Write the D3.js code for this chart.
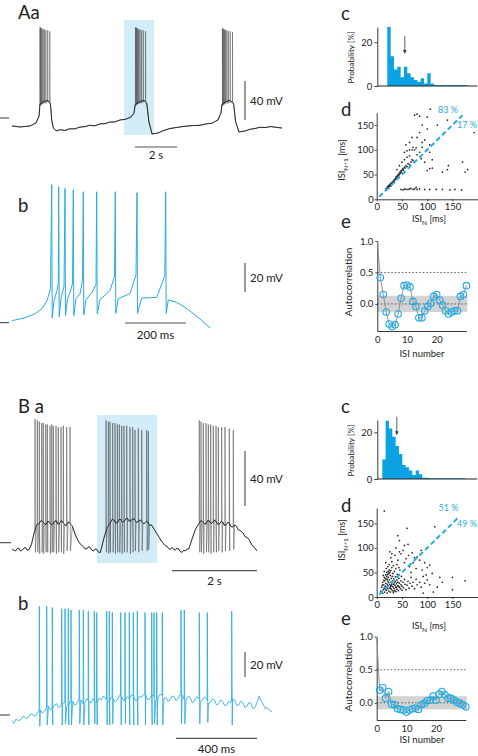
<!DOCTYPE html>
<html><head><meta charset="utf-8">
<script src="https://cdn.jsdelivr.net/npm/d3@7"></script>
<style>body{margin:0;background:#fff}svg{display:block}text{font-family:Lato,"Noto Sans",sans-serif;fill:#222}</style>
</head><body><svg id="c" width="478" height="756"></svg>
<script>
// ---------------- DATA ----------------
// Aa: slow membrane potential [s, mV] and spikes [s, peak mV, trough mV]
const aaBase = [[0,-68.2],[0.38,-69.2],[0.86,-68.2],[1.14,-65.1],[1.29,-58],[1.33,-46],[1.5,-43],[1.7,-42],[1.83,-45],[1.89,-62],[1.97,-70.3],[2.1,-73.3],[2.3,-72],[2.52,-72.8],[2.75,-71],[3.0,-71.2],[3.2,-69.5],[3.48,-68.8],[3.7,-67.5],[3.95,-68],[4.2,-66],[4.43,-65.8],[4.65,-64.2],[4.9,-64],[5.15,-62],[5.38,-61.5],[5.67,-59],[5.81,-54.9],[5.87,-46],[6.1,-43],[6.3,-42],[6.42,-45],[6.52,-64],[6.67,-76.4],[6.95,-75.4],[7.2,-73],[7.52,-70.8],[7.9,-69.5],[8.24,-68.5],[8.6,-67.8],[8.95,-67.5],[9.25,-66],[9.52,-65.4],[9.81,-62],[9.95,-54.9],[10.0,-46],[10.2,-43],[10.38,-42],[10.55,-45],[10.65,-64],[10.81,-74.4],[11.1,-73.3],[11.35,-71.5],[11.57,-70.8],[11.8,-69.5],[12.05,-69.8],[12.3,-68.8],[12.52,-69.4],[12.86,-70.3]];
const aaSpikes = [[1.33,33,-47],[1.36,33,-47],[1.39,32,-46],[1.43,32,-46],[1.48,31,-45],[1.54,31,-45],[1.61,30,-45],[1.70,30,-44],[1.80,29,-45],
  [5.88,33,-47],[5.91,33,-47],[5.94,32,-46],[5.98,32,-46],[6.03,31,-45],[6.09,31,-45],[6.16,30,-45],[6.25,30,-44],[6.36,29,-45],
  [10.02,32,-47],[10.05,32,-47],[10.08,31,-46],[10.12,31,-46],[10.17,30,-45],[10.23,30,-45],[10.30,29,-45],[10.39,29,-44],[10.50,28,-45]];
const aaWindow = [5.33, 6.76];

// Ab: full trace [ms, mV]
const abTrace = [[0,-58.6],[42.6,-56.6],[75.4,-53.8],[98.4,-50.3],[114.8,-44.8],[126.2,-36.6],[130.2,35.2],[131.8,-56.6],[137.7,-44.8],[147.5,-37.9],[151.8,-33.1],[153.1,33.8],[154.8,-55.9],[160.7,-43.4],[170.5,-35.2],[173.8,32.6],[175.4,-55.2],[182,-43.4],[190.2,-39.3],[198.4,-33.1],[201,31.7],[202.6,-55.2],[209.8,-43.4],[223,-40],[231.1,-31],[233.8,30.3],[235.4,-54.5],[242.6,-44.1],[262.3,-39.3],[275.4,-33.8],[277.7,30.3],[279.3,-53.8],[288.5,-44.1],[321.3,-37.9],[336.1,-28.3],[338.7,30.3],[340.3,-53.6],[348.5,-43.4],[386.9,-40],[406.6,-26.9],[409.8,29.7],[411.5,-53.6],[425.2,-43],[474.4,-42.6],[501,-27.6],[503.9,30.3],[505.6,-53.6],[512.5,-44.3],[540,-46],[567.2,-49.4],[590,-53],[616.4,-57.4],[649.2,-63.7]];

// Ba: slow potential [s, mV] and spikes
const baBase = [[0,-64.5],[0.04,-65.5],[0.08,-66],[0.12,-64.5],[0.16,-64],[0.2,-66],[0.24,-65.5],[0.28,-64],[0.32,-63.5],[0.36,-65.5],[0.40,-65],[0.46,-61],[0.52,-53],[0.58,-47],[0.64,-46],[0.68,-44],[0.72,-44.5],[0.76,-46],[0.80,-47],[0.84,-44.5],[0.88,-45],[0.92,-47],[0.96,-46.5],[1.0,-44.5],[1.04,-44],[1.08,-46.5],[1.12,-46],[1.16,-44],[1.20,-45],[1.24,-47],[1.28,-47.5],[1.32,-45],[1.36,-45.5],[1.42,-48],[1.50,-55],[1.58,-60],[1.63,-61.5],[1.68,-63],[1.72,-64.5],[1.76,-64.5],[1.80,-63],[1.84,-63.5],[1.88,-65.5],[1.92,-66],[1.96,-64.5],[2.00,-65],[2.04,-67],[2.08,-67],[2.16,-57],[2.24,-49],[2.32,-45],[2.36,-43],[2.40,-43.5],[2.44,-45.5],[2.48,-45.5],[2.52,-43],[2.56,-43],[2.60,-45],[2.64,-44.5],[2.68,-42.5],[2.72,-42.5],[2.76,-44.5],[2.80,-44],[2.84,-42.5],[2.88,-43],[2.92,-45],[2.96,-45],[3.0,-43.5],[3.04,-44],[3.08,-46],[3.12,-46],[3.16,-44.5],[3.20,-45],[3.24,-47.5],[3.28,-47],[3.36,-51],[3.44,-55],[3.52,-59],[3.60,-62],[3.64,-62.5],[3.68,-64],[3.72,-65],[3.76,-63.5],[3.80,-64.5],[3.84,-65.5],[3.88,-64],[3.92,-64.5],[3.96,-66.5],[4.00,-67],[4.04,-65.5],[4.08,-66],[4.12,-64.5],[4.16,-64.5],[4.24,-57],[4.32,-50],[4.40,-46],[4.44,-44],[4.48,-44.5],[4.52,-46],[4.56,-46.5],[4.60,-44],[4.64,-44],[4.68,-46],[4.72,-45.5],[4.76,-43.5],[4.80,-44.5],[4.84,-46.5],[4.88,-46.5],[4.92,-44.5],[4.96,-45],[5.0,-47.5],[5.04,-47],[5.08,-45],[5.12,-46],[5.16,-48.5],[5.20,-48.5],[5.24,-47],[5.28,-48],[5.32,-50.5],[5.36,-51],[5.40,-52],[5.44,-53],[5.48,-55.5],[5.52,-56],[5.56,-57],[5.60,-59],[5.64,-61.5],[5.68,-63],[5.72,-64],[5.76,-66]];
const baSpikes = [[0.541,30,-67],[0.595,29,-67],[0.642,28,-68],[0.699,27,-67],[0.736,27,-68],[0.793,26,-67],[0.831,26,-67],[0.894,25,-68],[0.935,26,-67],[0.972,25,-67],[1.035,25,-68],[1.089,24,-67],[1.153,24,-67],[1.207,25,-68],[1.287,24,-66],[1.365,24,-66],
  [2.212,29,-67],[2.266,28,-68],[2.306,28,-67],[2.369,27,-67],[2.424,27,-68],[2.478,26,-67],[2.525,26,-67],[2.581,25,-68],[2.635,25,-67],[2.699,25,-67],[2.776,24,-68],[2.84,24,-67],[2.894,22,-66],[2.972,23,-67],[3.052,22,-66],[3.169,22,-66],[3.207,21,-65],
  [4.407,29,-67],[4.447,28,-67],[4.501,27,-68],[4.565,27,-67],[4.619,26,-67],[4.675,26,-68],[4.736,25,-67],[4.8,25,-67],[4.854,24,-66],[4.934,24,-67],[5.012,24,-66],[5.113,23,-66],[5.207,22,-65]];
const baWindow = [2.0, 3.41];

// Bb: slow potential [ms, mV] and spikes
const bbBase = [[0,-65],[10,-66.5],[20,-63],[30,-64.5],[40,-64],[50,-62],[60,-61],[70,-63],[80,-62],[90,-59.5],[100,-59],[110,-61],[120,-60],[130,-57],[140,-56],[150,-58.5],[160,-57],[170,-54],[180,-53],[190,-56],[200,-55],[210,-52],[220,-51],[230,-54],[240,-53],[250,-50.5],[260,-50],[270,-53],[280,-52],[290,-48.5],[300,-49],[310,-52],[320,-51],[330,-47.5],[340,-48],[350,-51],[360,-50],[370,-47],[380,-49],[390,-50.5],[400,-47],[410,-49.5],[420,-50],[430,-46.5],[440,-48],[450,-45],[460,-46],[470,-49],[480,-49],[490,-46],[500,-47],[510,-49.5],[520,-48],[530,-44.5],[540,-45],[550,-48.5],[560,-48],[570,-45.5],[580,-47],[590,-44],[600,-45],[610,-48.5],[620,-48],[630,-45],[640,-46],[650,-43.5],[660,-44],[670,-48],[680,-47],[690,-44],[700,-45],[710,-48],[720,-47],[730,-43.5],[740,-44],[750,-47],[760,-46],[770,-49],[780,-48],[790,-45],[800,-45],[810,-48.5],[820,-47],[830,-43.5],[840,-44],[850,-47.5],[860,-47],[870,-45],[880,-46],[890,-50],[900,-49],[910,-45.5],[920,-46],[930,-49],[940,-48],[950,-45.5],[960,-47],[970,-50.5],[980,-50],[990,-47],[1000,-48],[1010,-52],[1020,-51],[1030,-48],[1040,-49],[1050,-52.5],[1060,-52],[1070,-49],[1080,-50],[1090,-47],[1100,-48],[1110,-52.5],[1120,-52],[1130,-49],[1140,-50],[1150,-54],[1160,-53],[1170,-50],[1180,-51],[1190,-55],[1200,-54],[1210,-50],[1220,-45],[1230,-49],[1240,-51],[1250,-55],[1260,-54],[1270,-56],[1284,-57.5]];
const bbSpikes = [[134.8,27,-69],[171.4,27,-68],[199,26,-68],[245.4,25,-68],[261.7,25,-67],[278,25,-68],[291.4,24,-68],[332.3,24,-67],[352.1,24,-68],[376.8,23,-68],[406.4,23,-67],[418.3,22,-68],[467.7,23,-68],[480.5,23,-68],[495.3,22,-67],[536.8,22,-68],[558,22,-67],[579.3,22,-68],[599,22,-68],[618.8,23,-68],[656.8,22,-68],[689.9,22,-68],[701.2,22,-67],[714.6,22,-68],[742.2,22,-68],[834.6,24,-67],[850.9,24,-67],[924.9,22,-67],[964.4,22,-66],[1085,23,-68]];

// ISI histograms: bin left edges [ms] and probability [%]
const histAEdges = [20,26.7,33.3,40,46.7,53.3,60,66.7,73.3,80,86.7,93.3,100,106.7,113.3,120,126.7,133.3,140,146.7,153.3,160,166.7,173.3];
const histAValues = [27,13.6,7.6,8.8,4,8.8,5.8,4,2.7,2,3.5,1.2,5.8,1.2,0.5,0.5,0.5,0.5,0.5,0.5,0.5,0.5,0.5,0.5];
const histBEdges = [10,16.7,23.3,30,36.7,43.3,50,56.7,63.3,70,76.7,83.3,90,96.7,103.3,110,116.7,123.3,130,136.7,143.3,150,156.7,163.3,170];
const histBValues = [8.4,25,21.7,18.1,14.1,10.7,6,5,3.6,1.7,3.6,2,0.5,0.5,0.3,0.3,0.3,0.3,0.3,0.3,0.3,0.3,0.3,0.3,0.3];
const meanIsiA = 55, meanIsiB = 39;

// Return maps [ISI_N, ISI_N+1] (ms)
const scatterA = [[18,19],[19,22],[20,21],[21,24],[22,23],[22,26],[23,25],[24,27],[24,22],[25,28],[26,27],[26,30],[27,29],[28,31],[28,27],[29,33],[30,32],[31,35],[31,30],[32,34],[33,37],[34,36],[35,40],[35,34],[36,39],[37,42],[38,41],[38,45],[39,43],[40,47],[41,45],[42,49],[43,48],[44,52],[45,50],[46,55],[47,53],[48,57],[49,58],[50,54],[51,60],[52,62],[53,59],[55,65],[56,63],[58,68],[60,66],[62,72],[65,70],[68,75],[70,80],[72,78],
 [40,60],[45,68],[50,75],[55,80],[55,95],[60,98],[65,100],[70,100],[72,105],[75,100],[78,104],[80,90],[85,95],[60,85],[58,110],[65,115],[70,125],[80,125],[85,135],[90,150],[75,170],[80,172],[85,168],[100,166],[106,182],[100,142],[90,115],[95,120],[105,110],[120,150],[140,160],[100,100],[105,95],[110,80],[95,75],[88,82],[90,105],[65,88],
 [48,20],[52,19],[55,21],[58,20],[62,20],[65,21],[68,22],[72,20],[75,21],[78,24],[80,20],[85,21],[95,20],[105,20],[118,20],[130,20],[145,19],[155,20],[168,19],
 [175,55],[170,75],[180,60],[140,60],[142,68],[110,63],[105,62],[100,58],[130,55],[193,135]];
const scatterB = [[8,12],[10,20],[12,8],[12,30],[13,15],[14,25],[15,40],[15,18],[16,10],[16,33],[17,22],[18,28],[18,45],[19,14],[19,36],[20,20],[20,50],[21,26],[21,8],[22,32],[22,17],[23,40],[23,23],[24,12],[24,29],[25,35],[25,55],[26,19],[26,25],[27,44],[27,10],[28,30],[28,22],[29,16],[29,38],[30,27],[30,60],[31,13],[31,33],[32,21],[32,48],[33,26],[33,9],[34,37],[34,18],[35,29],[35,52],[36,14],[36,24],[37,41],[37,32],[38,20],[38,11],[39,27],[40,35],[40,16],[41,46],[42,23],[42,30],[43,13],[44,38],[45,20],[45,28],[46,55],[47,17],[48,33],[48,25],[49,42],[50,14],[50,22],[52,30],[53,19],[55,36],[56,26],[58,15],[60,24],[62,32],[64,18],[66,28],[68,40],[70,22],[72,30],[75,17],[78,36],[80,25],[85,30],[88,20],[92,42],[95,28],
 [14,34],[17,38],[20,42],[22,46],[24,48],[26,50],[28,54],[19,58],[22,62],[25,66],[15,52],[18,70],[30,72],[33,64],[38,58],[40,66],[42,75],[44,60],[36,85],[30,88],[26,92],[45,92],[28,80],[11,24],[13,44],[17,16],[21,36],[23,52],[27,18],[29,24],[31,42],[34,12],[39,20],[41,30],[43,22],
 [15,175],[42,125],[45,115],[38,100],[55,105],[62,107],[60,140],[115,143],[70,90],[75,80],[80,82],[72,70],[65,62],[90,55],[100,60],[105,65],[98,45],[110,48],[125,40],[150,40],[175,33],[150,15],[120,20],[105,25],[85,75],[78,58],[68,50],[58,78],[52,95],[48,88],[55,70],[63,85],[88,95],[95,70],[100,35],[130,30],[112,10],[92,8]];
const unityA = [[5,5],[170,170]], unityB = [[5,5],[164,164]];
const pctA = ["83 %","17 %"], pctB = ["51 %","49 %"];

// Autocorrelation, lags 0..30
const acA = [1.0,0.42,0.15,-0.13,-0.32,-0.36,-0.33,-0.16,0.09,0.29,0.30,0.27,0.04,-0.04,-0.22,-0.22,-0.11,-0.04,0.01,0.12,0.15,0.06,-0.02,-0.11,-0.16,-0.13,-0.11,-0.11,0.12,0.15,0.29];
const acB = [1.0,0.19,0.23,0.07,0.17,-0.02,-0.03,-0.09,-0.1,-0.11,-0.14,-0.11,-0.09,-0.08,-0.1,-0.03,-0.01,0.03,0.04,0.1,0.04,0.13,0.17,0.12,0.07,0.07,0.04,0.01,-0.01,-0.03,-0.06];
const bandA = 0.13, bandB = 0.1;

// ---------------- DRAWING ----------------
const CY = '#29abe2', BAR = '#0aa2e2', HL = '#d2ecf8', INK = '#222', FONT = 'Lato, "Noto Sans", sans-serif';
const svg = d3.select('#c');
svg.append('rect').attr('width',478).attr('height',756).attr('fill','#fff');

function buildTrace(base, spikes, up, down){
  const interp = d3.scaleLinear().domain(base.map(d=>d[0])).range(base.map(d=>d[1]));
  const ev = base.map(d=>({t:d[0], pts:[d]}));
  spikes.forEach(s=>ev.push({t:s[0]-up, pts:[[s[0]-up, interp(s[0]-up)],[s[0],s[1]],[s[0]+down,s[2]]]}));
  ev.sort((a,b)=>a.t-b.t);
  return ev.flatMap(e=>e.pts);
}
function text(x,y,str,size,anchor,color){
  return svg.append('text').attr('x',x).attr('y',y).attr('font-size',size).attr('text-anchor',anchor||'start').style('fill',color||INK).text(str);
}
function tracePanel(o){
  if(o.win) svg.append('rect').attr('x',o.x(o.win[0])).attr('y',o.winY[0]).attr('width',o.x(o.win[1])-o.x(o.win[0])).attr('height',o.winY[1]-o.winY[0]).attr('fill',HL);
  svg.append('line').attr('x1',0).attr('x2',o.refLen).attr('y1',o.y(-60)).attr('y2',o.y(-60)).attr('stroke','#333').attr('stroke-width',1);
  const line = d3.line().x(d=>o.x(d[0])).y(d=>o.y(d[1]));
  svg.append('path').datum(o.data).attr('d',line)
    .attr('fill','none').attr('stroke',o.color).attr('stroke-width',o.sw).attr('stroke-linejoin','round');
  if(o.slow) svg.append('path').datum(o.slow).attr('d',line).attr('fill','none').attr('stroke',o.slowColor).attr('stroke-width',o.slowSw).attr('stroke-linejoin','round');
  const vLen = o.y(-60)-o.y(-60+o.mv), hLen = o.x(o.tb)-o.x(0);
  svg.append('line').attr('x1',245).attr('x2',245).attr('y1',o.vBot).attr('y2',o.vBot-vLen).attr('stroke','#555').attr('stroke-width',1.2);
  text(250,o.vBot-vLen/2+4,o.mv+' mV',11.5);
  svg.append('line').attr('x1',o.hX).attr('x2',o.hX+hLen).attr('y1',o.hY).attr('y2',o.hY).attr('stroke','#555').attr('stroke-width',1.2);
  text(o.hX+hLen/2,o.hY+o.hLblDy,o.tlabel,11.5,'middle');
}

// Aa
const xAa = d3.scaleLinear().domain([0,2]).range([12,54]);
const yAa = d3.scaleLinear().domain([-60,-20]).range([118,79]);
tracePanel({x:xAa,y:yAa,data:buildTrace(aaBase,aaSpikes,0.004,0.008),color:'#4a4a4a',sw:0.5,slow:aaBase,slowColor:'#1a1a1a',slowSw:0.9,win:aaWindow,winY:[20,135],refLen:9,mv:40,tb:2,tlabel:'2 s',vBot:120,hX:135,hY:147,hLblDy:12});
// Ab
const xAb = d3.scaleLinear().domain([0,200]).range([12,73]);
const yAb = d3.scaleLinear().domain([-60,-40]).range([322.7,293.7]);
tracePanel({x:xAb,y:yAb,data:abTrace,color:CY,sw:1,refLen:9,mv:20,tb:200,tlabel:'200 ms',vBot:292,hX:125,hY:323,hLblDy:16});
// Ba
const xBa = d3.scaleLinear().domain([0,2]).range([12,97]);
const yBa = d3.scaleLinear().domain([-60,-20]).range([542.7,487.7]);
tracePanel({x:xBa,y:yBa,data:buildTrace(baBase,baSpikes,0.003,0.01),color:'#444',sw:0.5,slow:baBase,slowColor:'#1a1a1a',slowSw:0.8,win:baWindow,winY:[415,563],refLen:11,mv:40,tb:2,tlabel:'2 s',vBot:506,hX:172,hY:570.7,hLblDy:14});
// Bb
const xBb = d3.scaleLinear().domain([0,400]).range([12,93]);
const yBb = d3.scaleLinear().domain([-60,-40]).range([715,690]);
tracePanel({x:xBb,y:yBb,data:buildTrace(bbBase,bbSpikes,0.8,2.5),color:CY,sw:0.85,refLen:10,mv:20,tb:400,tlabel:'400 ms',vBot:677,hX:176,hY:738.3,hLblDy:15});

// panel letters
[['Aa',18,18.5],['b',18,212],['B a',18,413],['b',18,610],['c',341,20],['d',341,116],['e',341,228],['c',341,413],['d',341,512],['e',341,625]]
  .forEach(d=>text(d[1],d[2],d[0],18.5));

function styleAxis(g){
  g.attr('font-family',FONT).attr('font-size',9.5);
  g.selectAll('.domain').attr('stroke',INK).attr('stroke-width',0.9);
  g.selectAll('.tick line').attr('stroke',INK).attr('stroke-width',0.9);
  g.selectAll('.tick text').style('fill',INK);
}
function rotLabel(x,y,str,size){
  return svg.append('text').attr('transform',`translate(${x},${y}) rotate(-90)`).attr('text-anchor','middle').attr('font-size',size).text(str);
}

// histogram panels
function histPanel(o){
  const x = d3.scaleLinear().domain([0,200]).range([377.3,477.3]);
  const y = d3.scaleLinear().domain([0,o.ymax]).range([o.y0,o.y1]);
  const w = o.edges[1]-o.edges[0];
  const pts = o.values.map((v,i)=>[o.edges[i],v]);
  pts.push([o.edges[o.edges.length-1]+w, o.values[o.values.length-1]]);
  svg.append('path').datum(pts).attr('d',d3.area().curve(d3.curveStepAfter).x(d=>x(d[0])).y0(y(0)).y1(d=>y(d[1]))).attr('fill',BAR);
  svg.append('g').attr('transform',`translate(${x(0)},0)`).call(d3.axisLeft(y).tickValues([0,20]).tickSize(3).tickPadding(2).tickSizeOuter(0)).call(styleAxis);
  svg.append('line').attr('x1',x(0)).attr('x2',x(200)).attr('y1',y(0)).attr('y2',y(0)).attr('stroke',INK).attr('stroke-width',1.1);
  const ax = x(o.mean), a0 = y(o.arrow[0]), a1 = y(o.arrow[1]);
  svg.append('line').attr('x1',ax).attr('x2',ax).attr('y1',a0).attr('y2',a1-3).attr('stroke','#333').attr('stroke-width',0.8);
  svg.append('path').attr('d',`M${ax-1.8},${a1-4}L${ax+1.8},${a1-4}L${ax},${a1}Z`).attr('fill','#333');
  rotLabel(354,(o.y0+o.y1)/2+1,'Probability [%]',8.2);
}
histPanel({edges:histAEdges,values:histAValues,ymax:27,y0:86,y1:27,mean:meanIsiA,arrow:[22.9,14.6]});
histPanel({edges:histBEdges,values:histBValues,ymax:25.3,y0:479,y1:420,mean:meanIsiB,arrow:[26.7,18.8]});

// return-map panels
function isiLabel(x,y,sub,rot){
  const t = svg.append('text').attr('font-size',9.2).attr('text-anchor','middle');
  if(rot) t.attr('transform',`translate(${x},${y}) rotate(-90)`); else t.attr('x',x).attr('y',y);
  t.append('tspan').text('ISI');
  t.append('tspan').attr('font-size',6.5).attr('dy',2.5).text(sub);
  t.append('tspan').attr('dy',-2.5).text(' [ms]');
}
function scatterPanel(o){
  const x = d3.scaleLinear().domain([0,200]).range([376.7,477.7]);
  const y = d3.scaleLinear().domain([0,o.ymax]).range([o.y0,o.y0-o.ymax*o.k]);
  svg.append('g').attr('transform',`translate(0,${o.y0})`).call(d3.axisBottom(x).tickValues([0,50,100,150]).tickSize(2).tickPadding(2).tickSizeOuter(0)).call(styleAxis);
  svg.append('g').attr('transform',`translate(${x(0)},0)`).call(d3.axisLeft(y).tickValues([0,50,100,150]).tickSize(2).tickPadding(1).tickSizeOuter(0)).call(styleAxis);
  svg.append('g').selectAll('circle').data(o.pts).join('circle').attr('cx',d=>x(d[0])).attr('cy',d=>y(d[1])).attr('r',0.85).attr('fill','#222');
  svg.append('path').datum(o.unity).attr('d',d3.line().x(d=>x(d[0])).y(d=>y(d[1]))).attr('stroke',CY).attr('stroke-width',2).attr('stroke-dasharray','5,3').attr('fill','none');
  text(o.p1[0],o.p1[1],o.pct[0],9,'end',CY);
  text(o.p2[0],o.p2[1],o.pct[1],9,'end',CY);
  isiLabel(429,o.xlY,'N',false);
  isiLabel(345,o.ylY,'N+1',true);
}
scatterPanel({pts:scatterA,unity:unityA,ymax:175,y0:199.3,k:0.495,pct:pctA,p1:[458,113],p2:[477,128],xlY:222,ylY:160});
scatterPanel({pts:scatterB,unity:unityB,ymax:181,y0:597,k:0.491,pct:pctB,p1:[458.5,511],p2:[477,527],xlY:629,ylY:540});

// autocorrelation panels
function acPanel(o){
  const x = d3.scaleLinear().domain([0,30]).range([o.x0,o.x0+89.1]);
  const y = d3.scaleLinear().domain([o.ymin,1]).range([o.yb,o.yt]);
  svg.append('rect').attr('x',x(0)).attr('width',x(30)-x(0)+1).attr('y',y(o.band)).attr('height',y(-o.band)-y(o.band)).attr('fill','#d3d3d3');
  [0.5,0].forEach(v=>svg.append('line').attr('x1',x(0)).attr('x2',x(30)).attr('y1',y(v)).attr('y2',y(v)).attr('stroke','#333').attr('stroke-width',0.8).attr('stroke-dasharray','1.5,2'));
  svg.append('g').attr('transform',`translate(0,${o.yb})`).call(d3.axisBottom(x).tickValues([0,10,20]).tickSize(0).tickPadding(5).tickSizeOuter(0)).call(styleAxis);
  svg.append('g').attr('transform',`translate(${x(0)},0)`).call(d3.axisLeft(y).tickValues([0,0.5,1]).tickFormat(d3.format('.1f')).tickSize(2).tickPadding(2).tickSizeOuter(0)).call(styleAxis);
  const pts = o.ac.map((v,i)=>[i,v]);
  svg.append('path').datum(pts).attr('d',d3.line().x(d=>x(d[0])).y(d=>y(d[1]))).attr('fill','none').attr('stroke','#8a8a8a').attr('stroke-width',0.9);
  svg.append('g').selectAll('circle').data(pts.slice(1)).join('circle').attr('cx',d=>x(d[0])).attr('cy',d=>y(d[1])).attr('r',3.3)
    .attr('fill','rgba(41,171,226,0.08)').attr('stroke',CY).attr('stroke-width',1.1);
  rotLabel(352,o.lblY,'Autocorrelation',10);
  text(422,o.xlY,'ISI number',9.5,'middle');
}
acPanel({ac:acA,band:bandA,x0:377.3,ymin:-0.43,yb:331,yt:241,lblY:282,xlY:357});
acPanel({ac:acB,band:bandB,x0:376.7,ymin:-0.26,yb:720,yt:636.7,lblY:677,xlY:743});
</script></body></html>
